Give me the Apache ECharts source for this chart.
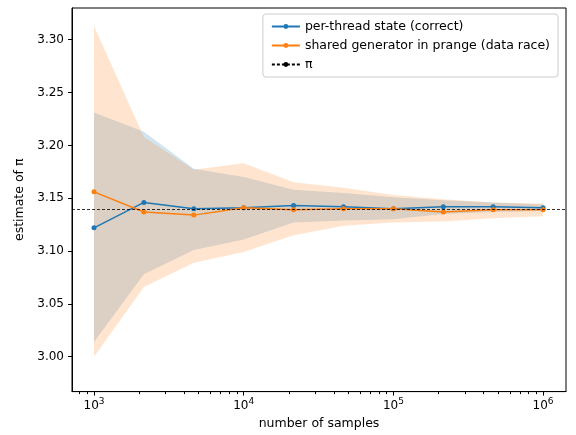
<!DOCTYPE html>
<html>
<head>
<meta charset="utf-8">
<script src="https://cdn.jsdelivr.net/npm/echarts@6/dist/echarts.min.js"></script>
<style>html,body{margin:0;padding:0;background:#fff}#chart{width:576px;height:435px}</style>
</head>
<body>
<div id="chart"></div>
<script>
// sample counts (log spaced)
var samples = [1000, 2154, 4642, 10000, 21544, 46416, 100000, 215443, 464159, 1000000];
var perThread = [3.122, 3.146, 3.140, 3.141, 3.143, 3.142, 3.140, 3.142, 3.142, 3.141];
var perThreadHi = [3.231, 3.213, 3.178, 3.170, 3.158, 3.155, 3.151, 3.148, 3.146, 3.144];
var perThreadLo = [3.014, 3.078, 3.101, 3.111, 3.127, 3.129, 3.130, 3.135, 3.137, 3.138];
var shared = [3.156, 3.137, 3.134, 3.141, 3.139, 3.140, 3.140, 3.137, 3.139, 3.139];
var sharedHi = [3.313, 3.208, 3.177, 3.183, 3.165, 3.160, 3.153, 3.149, 3.146, 3.145];
var sharedLo = [3.000, 3.066, 3.089, 3.099, 3.115, 3.124, 3.127, 3.128, 3.131, 3.133];
var yTicks = [3.00, 3.05, 3.10, 3.15, 3.20, 3.25, 3.30];
var xTicks = [3, 4, 5, 6];

var font = 'DejaVu Sans';
var lx = samples.map(function (s) { return Math.log10(s); });
function pts(arr) { return arr.map(function (v, i) { return [lx[i], v]; }); }
function bandData(hi, lo) { return hi.map(function (v, i) { return [lx[i], lo[i], v]; }); }
var minor = [];
for (var e = 2; e <= 6; e++) for (var k = 2; k <= 9; k++) {
    var v = Math.log10(k * Math.pow(10, e));
    if (v > 2.853 && v < 6.153) minor.push(v);
}

// one polygon for the whole band, drawn from the first data item
function band(color) {
    return {
        type: 'custom', silent: true, z: 1,
        renderItem: function (params, api) {
            if (params.dataIndex !== 0) return;
            var n = params.dataInsideLength !== undefined ? samples.length : samples.length;
            var top = [], bot = [];
            for (var i = 0; i < n; i++) {
                var x = api.value(0, i);
                top.push(api.coord([x, api.value(2, i)]));
                bot.unshift(api.coord([x, api.value(1, i)]));
            }
            return { type: 'polygon', shape: { points: top.concat(bot) }, style: { fill: color } };
        }
    };
}

var bBand = band('rgba(31,119,180,0.2)');
bBand.data = bandData(perThreadHi, perThreadLo);
var oBand = band('rgba(255,127,14,0.2)');
oBand.data = bandData(sharedHi, sharedLo);

var chart = echarts.init(document.getElementById('chart'));
chart.setOption({
    animation: false,
    textStyle: { fontFamily: font },
    grid: { left: 72, right: 10, top: 8, bottom: 39, show: true, borderColor: '#000', borderWidth: 1 },
    legend: {
        right: 18, top: 14, orient: 'vertical', itemGap: 6, itemWidth: 28, itemHeight: 6,
        borderColor: '#ccc', borderWidth: 1, borderRadius: 3, padding: [6, 8, 6, 8],
        textStyle: { fontSize: 12.5, color: '#000', fontFamily: font },
        data: ['per-thread state (correct)', 'shared generator in prange (data race)', 'π']
    },
    xAxis: [{
        type: 'value', min: 2.853, max: 6.153, name: 'number of samples', nameLocation: 'middle', nameGap: 24,
        nameTextStyle: { fontSize: 12.5, color: '#000' },
        splitLine: { show: false }, axisLine: { lineStyle: { color: '#000' } },
        axisTick: { customValues: xTicks, length: 4, lineStyle: { color: '#000' } },
        axisLabel: {
            customValues: xTicks, color: '#000', margin: 6,
            formatter: function (v) { return '{b|10}{s|' + Math.round(v) + '}'; },
            rich: { b: { fontSize: 12, fontFamily: font }, s: { fontSize: 9, fontFamily: font, verticalAlign: 'top', padding: [0, 0, 8, 0] } }
        }
    }, {
        type: 'value', min: 2.853, max: 6.153, position: 'bottom', show: true,
        axisLine: { show: false }, splitLine: { show: false }, axisLabel: { show: false },
        axisTick: { customValues: minor, length: 2.5, lineStyle: { color: '#000' } }
    }],
    yAxis: {
        type: 'value', min: 2.967, max: 3.330, name: 'estimate of π', nameLocation: 'middle', nameGap: 46,
        nameTextStyle: { fontSize: 12.5, color: '#000' },
        splitLine: { show: false }, axisLine: { show: true, lineStyle: { color: '#000' } },
        axisTick: { customValues: yTicks, length: 4, lineStyle: { color: '#000' } },
        axisLabel: { customValues: yTicks, color: '#000', fontSize: 12, formatter: function (v) { return v.toFixed(2); } }
    },
    series: [
        bBand,
        oBand,
        { name: 'per-thread state (correct)', type: 'line', data: pts(perThread), color: '#1f77b4', z: 3,
          symbol: 'circle', symbolSize: 5, lineStyle: { width: 1.5 } },
        { name: 'shared generator in prange (data race)', type: 'line', data: pts(shared), color: '#ff7f0e', z: 3,
          symbol: 'circle', symbolSize: 5, lineStyle: { width: 1.5 } },
        { name: 'π', type: 'line', data: [], color: '#000', symbol: 'none', z: 4,
          lineStyle: { type: [3, 2], width: 0.8, color: '#000' },
          markLine: { silent: true, symbol: 'none', label: { show: false },
            lineStyle: { type: [3, 2], width: 0.8, color: '#000' }, data: [{ yAxis: Math.PI }] } }
    ]
});
</script>
</body>
</html>
